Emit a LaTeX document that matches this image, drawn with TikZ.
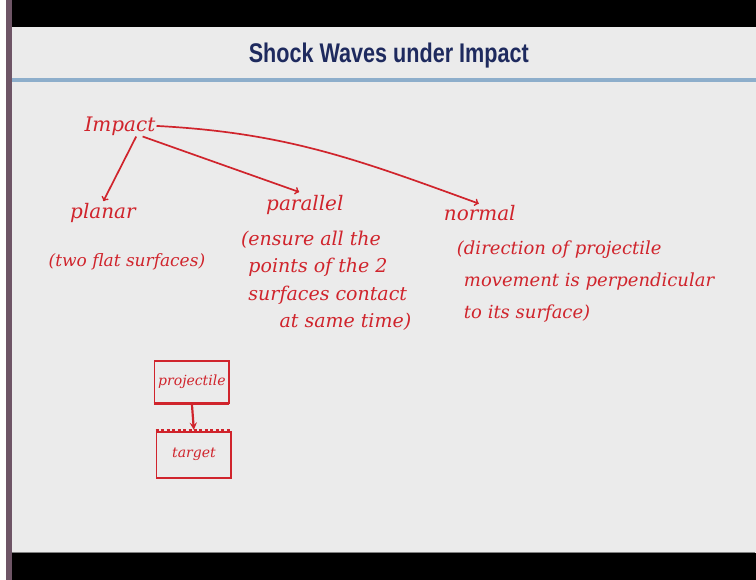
\documentclass[tikz,border=0pt]{standalone}
\usepackage{fontspec}
\newfontfamily\handfont{DejaVu Serif}
\newfontfamily\titlefont{Liberation Sans}
\usetikzlibrary{arrows}
\definecolor{ink}{HTML}{D0242C}
\definecolor{slide}{HTML}{EBEBEB}
\definecolor{navy}{HTML}{1E2A5E}
\definecolor{rulecol}{HTML}{8DAECB}
\definecolor{edge}{HTML}{6E5566}
\tikzstyle{hand}=[text=ink,
                  inner sep=1pt,
                  font=\handfont\itshape\fontsize{20}{22}\selectfont]
\tikzstyle{note}=[text=ink,
                  inner sep=1pt,
                  align=left,
                  font=\handfont\itshape\fontsize{18}{28}\selectfont]
\tikzstyle{box}=[rectangle,
                 draw=ink,
                 line width=1.8pt,
                 text=ink,
                 minimum width=75pt,
                 minimum height=42pt,
                 font=\handfont\itshape\fontsize{14}{16}\selectfont]
\tikzstyle{link}=[draw=ink, line width=1.7pt, ->, >=to]
\tikzstyle{push}=[draw=ink, line width=2.2pt, -stealth]

\begin{document}
\begin{tikzpicture}[x=1pt,y=-1pt,shorten >=1pt]
      % slide frame
      \fill[white] (0,0) rectangle (756,580);
      \fill[slide] (12,0) rectangle (756,580);
      \fill[edge] (6,0) rectangle (12,580);
      \fill[black] (12,0) rectangle (756,27);
      \fill[black] (12,553) rectangle (756,580);
      \draw[gray, thick] (12,553) -- (756,553);
      \fill[rulecol] (12,78) rectangle (756,82);
      \node[text=navy, font=\titlefont\bfseries\fontsize{27}{30}\selectfont]
        (title) at (389,56) {\scalebox{0.8}[1]{Shock Waves under Impact}};

      \node[hand] (impact)   at (120,126) {Impact};
      \node[hand] (planar)   at (103,213) {planar};
      \node[hand] (parallel) at (305,205) {parallel};
      \node[hand] (normal)   at (480,213) {normal};

      \node[note, font=\handfont\itshape\fontsize{17}{20}\selectfont]
        (flat) at (127,262) {(two flat surfaces)};
      \node[note, font=\handfont\itshape\fontsize{19}{27.5}\selectfont,
            anchor=north west] (ensure) at (240,230)
        {(ensure all the\\
         \phantom{(}points of the 2\\
         \phantom{(}surfaces contact\\
         \phantom{(sur}at same time)};
      \node[note, font=\handfont\itshape\fontsize{18}{32}\selectfont,
            anchor=north west] (direction) at (456,240)
        {(direction of projectile\\
         \phantom{(}movement is perpendicular\\
         \phantom{(}to its surface)};

      \node[box] (projectile) at (192,382) {projectile};
      \node[box, minimum height=46pt] (target) at (194,455) {target};
      \draw[ink, line width=3pt] (projectile.south west) -- (projectile.south east);
      \draw[ink, line width=3pt, dash pattern=on 3pt off 2.5pt]
        (target.north west) -- (target.north east);

      \draw[link] (impact.-33) -- (planar.north);
      \draw[link, shorten >=6pt] (impact.-25) -- (parallel.north);
      \draw[link] (impact.east) to[out=-3,in=160] (normal.north);
      \draw[push] (projectile.south) -- (target.north);
    \end{tikzpicture}
\end{document}
